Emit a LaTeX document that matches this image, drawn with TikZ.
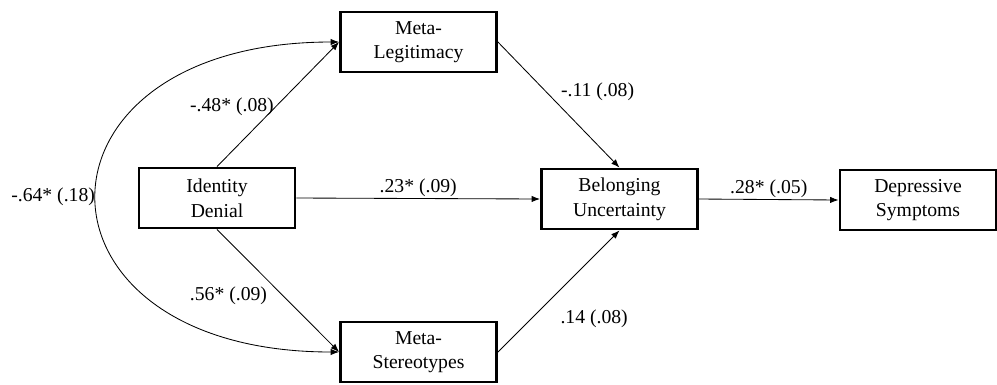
\documentclass[tikz,border=0pt]{standalone}
\usepackage{fontspec}
\setmainfont{Liberation Serif}
\usetikzlibrary{arrows.meta}

\begin{document}
\begin{tikzpicture}[x=0.025cm, y=-0.025cm,
    var/.style={draw, line width=2pt, minimum width=3.9cm, minimum height=1.5cm,
        inner sep=0pt, align=center, font=\fontsize{14}{17.5}\selectfont},
    path/.style={-{Latex[length=6pt,width=4.5pt]}, line width=0.6pt},
    coef/.style={font=\fontsize{14}{17}\selectfont, inner sep=1pt}]
    \useasboundingbox (0,0) rectangle (997,384);

    % Boxes
    \node[var] (iden)   at (217,198)   {Identity\\Denial};
    \node[var] (legit)  at (418.5,42)  {Meta-\\Legitimacy};
    \node[var] (stereo) at (418.5,352) {Meta-\\Stereotypes};
    \node[var] (belong) at (619.5,199) {Belonging\\Uncertainty};
    \node[var] (depr)   at (918,200)   {Depressive\\Symptoms};

    % Covariance
    \draw[path, {Latex[length=6pt,width=4.5pt]}-{Latex[length=6pt,width=4.5pt]}]
        (legit.west) .. controls (16,42) and (16,352) .. (stereo.west)
        node[coef, pos=0.5, anchor=east] {-.64* (.18)};

    % Paths
    \draw[path] (iden.north) -- (legit.west)
        node[coef, pos=0.48, anchor=east] {-.48* (.08)};
    \draw[path] (iden.south) -- (stereo.west)
        node[coef, pos=0.54, anchor=east, xshift=-10pt] {.56* (.09)};
    \draw[path] (iden.east) -- (belong.west)
        node[coef, midway, above] {.23* (.09)};
    \draw[path] (legit.east) -- (belong.north)
        node[coef, pos=0.4, anchor=west, xshift=9pt] {-.11 (.08)};
    \draw[path] (stereo.east) -- (belong.south)
        node[coef, pos=0.5, anchor=north west, yshift=-12pt] {.14 (.08)};
    \draw[path] (belong.east) -- (depr.west)
        node[coef, midway, above] {.28* (.05)};
\end{tikzpicture}
\end{document}
